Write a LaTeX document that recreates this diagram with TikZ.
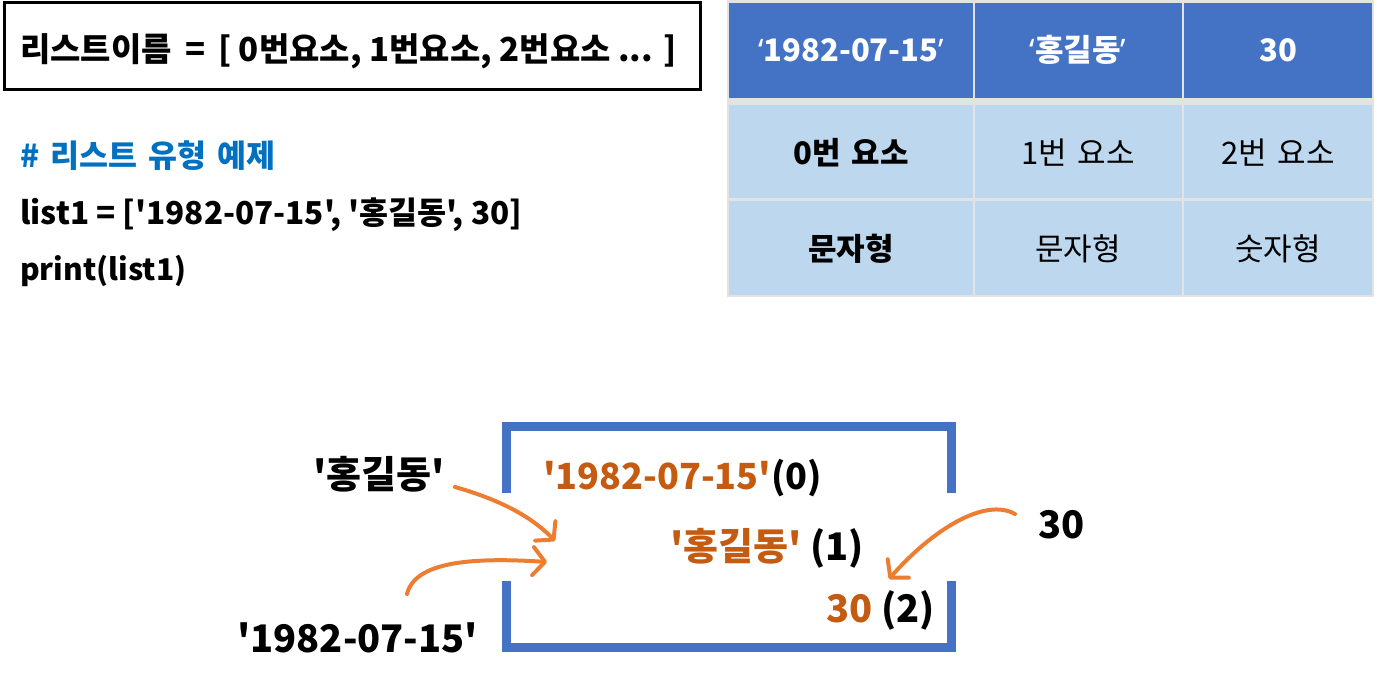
\documentclass[tikz,border=0pt]{standalone}
\usepackage{fontspec}
\setmainfont{Noto Sans CJK KR}[Ligatures=TeXOff]
\newfontfamily\latfont{Noto Sans}
\usetikzlibrary{arrows.meta}
\definecolor{hdrblue}{HTML}{4472C4}
\definecolor{cellblue}{HTML}{BDD7EE}
\definecolor{gridgrey}{HTML}{E3E3E3}
\definecolor{cmtblue}{HTML}{0070C0}
\definecolor{txtorange}{HTML}{C55A11}
\definecolor{arrorange}{HTML}{ED7D31}
\tikzset{
  codetxt/.style={anchor=base west, inner sep=0pt, font=\fontsize{31.5}{38}\selectfont\bfseries},
  hdrtxt/.style={anchor=base, inner sep=0pt, text=white, font=\fontsize{31}{36}\selectfont\bfseries},
  celltxt/.style={anchor=base, inner sep=0pt, font=\fontsize{31}{36}\selectfont},
  cellbold/.style={celltxt, font=\fontsize{31}{36}\selectfont\bfseries},
  hdrcell/.style={fill=hdrblue},
  bodycell/.style={fill=cellblue},
  bigtxt/.style={anchor=base west, inner sep=0pt, font=\fontsize{38}{44}\selectfont\bfseries},
  bracketline/.style={draw=hdrblue, line width=9pt},
  orangearrow/.style={draw=arrorange, line width=4pt, line cap=round,
    -{Straight Barb[length=12pt, width=28pt, line width=4pt, line cap=round, line join=round]}}
}
\begin{document}
\begin{tikzpicture}[x=1pt,y=-1pt]
\useasboundingbox (0,0) rectangle (1377,685);
% top-left syntax box
\draw[line width=3pt] (4,3) rectangle (700,90);
\node[codetxt, font=\fontsize{33}{38}\selectfont\bfseries] (syntax) at (20,62) {리스트이름 \,=\, [ 0번요소, 1번요소, 2번요소 ... ]};
% code sample
\node[codetxt, text=cmtblue] (cmt) at (20,167) {\#\hspace{4pt} 리스트\hspace{4pt} 유형\hspace{4pt} 예제};
\node[codetxt] (code1) at (20,224) {list1 = ['1982-07-15', '홍길동', 30]};
\node[codetxt, font=\fontsize{30}{38}\selectfont\bfseries] (code2) at (20,280) {print(list1)};
% table
\fill[gridgrey] (727,0) rectangle (1374,297);
\fill[hdrcell] (729,3) rectangle (973,98);
\fill[hdrcell] (975,3) rectangle (1182,98);
\fill[hdrcell] (1184,3) rectangle (1372,98);
\fill[bodycell] (729,105) rectangle (973,198);
\fill[bodycell] (975,105) rectangle (1182,198);
\fill[bodycell] (1184,105) rectangle (1372,198);
\fill[bodycell] (729,201) rectangle (973,295);
\fill[bodycell] (975,201) rectangle (1182,295);
\fill[bodycell] (1184,201) rectangle (1372,295);
\node[hdrtxt] (h1) at (851,62) {{\latfont ‘}1982-07-15{\latfont ’}};
\node[hdrtxt] (h2) at (1078,62) {{\latfont ‘}홍길동{\latfont ’}};
\node[hdrtxt] (h3) at (1278,62) {30};
\node[cellbold] (r1) at (851,164) {0번\hspace{4pt} 요소};
\node[celltxt] (r2) at (1078,164) {1번\hspace{4pt} 요소};
\node[celltxt] (r3) at (1278,164) {2번\hspace{4pt} 요소};
\node[cellbold] (t1) at (851,260) {문자형};
\node[celltxt] (t2) at (1078,260) {문자형};
\node[celltxt] (t3) at (1278,260) {숫자형};
% bracket box
\draw[bracketline] (506.5,493) -- (506.5,426.5) -- (951,426.5) -- (951,493);
\draw[bracketline] (506.5,581) -- (506.5,647.5) -- (951,647.5) -- (951,581);
% inner items
\node[bigtxt, font=\fontsize{36}{44}\selectfont\bfseries] (e0) at (543,489) {\textcolor{txtorange}{'1982-07-15'}(0)};
\node[bigtxt] (e1) at (670,560) {\textcolor{txtorange}{'홍길동'} (1)};
\node[bigtxt] (e2) at (826,622) {\textcolor{txtorange}{30} (2)};
% outer labels
\node[bigtxt] (lname) at (313,488) {'홍길동'};
\node[bigtxt] (ldate) at (237,652) {'1982-07-15'};
\node[bigtxt] (lnum) at (1038,538) {30};
% arrow ends
\coordinate (a1s) at (455,487);
\coordinate (a1e) at (555,541);
\coordinate (a2s) at (407,594);
\coordinate (a2e) at (547,562);
\coordinate (a3s) at (1015,514);
\coordinate (a3e) at (889,579);
\draw[orangearrow] (a1s) .. controls (497,499) and (530,515) .. (a1e);
\draw[orangearrow] (a2s) .. controls (415,562) and (470,557) .. (a2e);
\draw[orangearrow] (a3s) .. controls (985,497) and (932,530) .. (a3e);
\end{tikzpicture}
\end{document}
